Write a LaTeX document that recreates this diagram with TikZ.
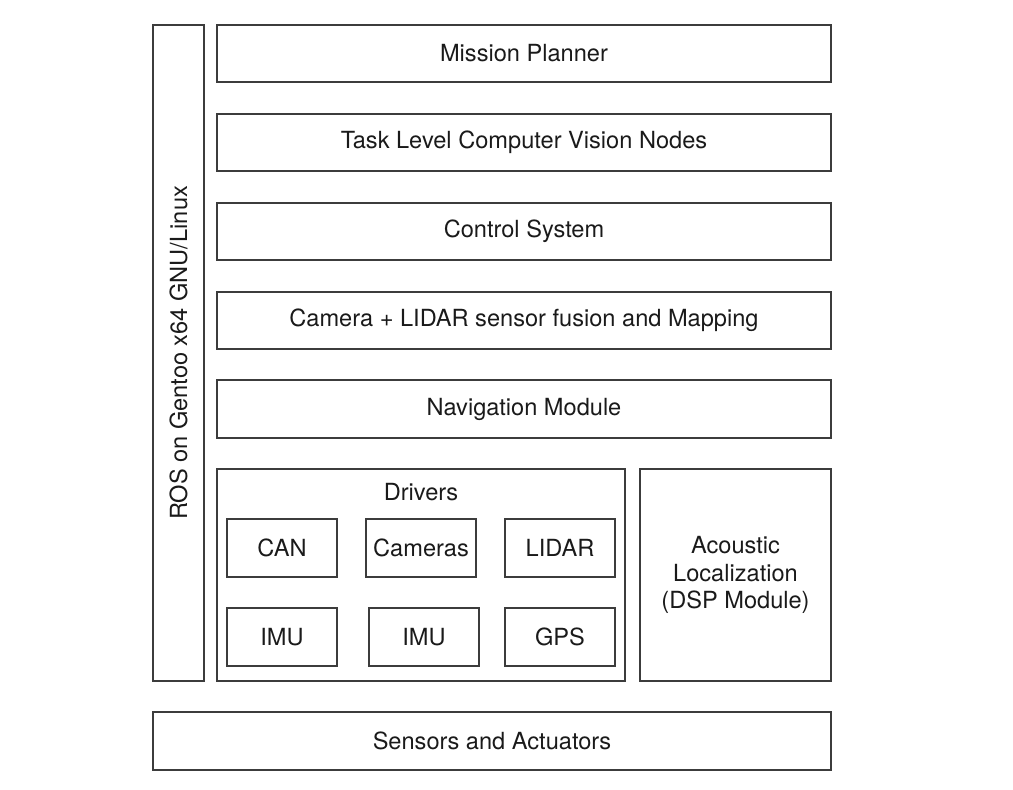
\documentclass[tikz,border=0pt]{standalone}
\usepackage{fontspec}
\setmainfont{TeX Gyre Heros}
\definecolor{edge}{HTML}{3C3C3C}
\definecolor{ink}{HTML}{1A1A1A}
\begin{document}
\begin{tikzpicture}[x=1pt,y=-1pt,every node/.style={font=\fontsize{23.6}{27.5}\selectfont,text=ink}]
    \tikzstyle{layer} = [draw=edge, line width=1.4pt, inner sep=0pt, minimum width=614pt, minimum height=57pt]
    \tikzstyle{drv} = [draw=edge, line width=1.4pt, inner sep=0pt, minimum width=110pt, minimum height=58pt]
    \tikzstyle{block} = [draw=edge, line width=1.4pt, inner sep=0pt, minimum height=212pt, align=center]
    \useasboundingbox (0,0) rectangle (1013,790);
        % side bar
        \node[draw=edge, line width=1.4pt, inner sep=0pt, minimum width=656pt, minimum height=51pt, rotate=90] (ros) at (178.5,353) {ROS on Gentoo x64 GNU/Linux};
        % software layers
        \node[layer] (mission) at (524,53.5) {Mission Planner};
        \node[layer] (vision) at (524,142.5) {Task Level Computer Vision Nodes};
        \node[layer] (control) at (524,231.5) {Control System};
        \node[layer] (fusion) at (524,320.5) {Camera + LIDAR sensor fusion and Mapping};
        \node[layer, minimum height=58pt] (nav) at (524,409) {Navigation Module};
        % drivers
        \node[block, minimum width=408pt] (drivers) at (421,575) {};
        \node (drvlabel) at (421,492) {Drivers};
        \node[drv] (can) at (282,548) {CAN};
        \node[drv] (cams) at (421,548) {Cameras};
        \node[drv] (lidar) at (560,548) {LIDAR};
        \node[drv] (imua) at (282,637) {IMU};
        \node[drv] (imub) at (424,637) {IMU};
        \node[drv] (gps) at (560,637) {GPS};
        % acoustic
        \node[block, minimum width=191pt] (acoustic) at (735.5,575) {Acoustic\\Localization\\(DSP Module)};
        % hardware
        \node[layer, minimum width=678pt, minimum height=58pt] (hw) at (492,741) {Sensors and Actuators};
\end{tikzpicture}
\end{document}
